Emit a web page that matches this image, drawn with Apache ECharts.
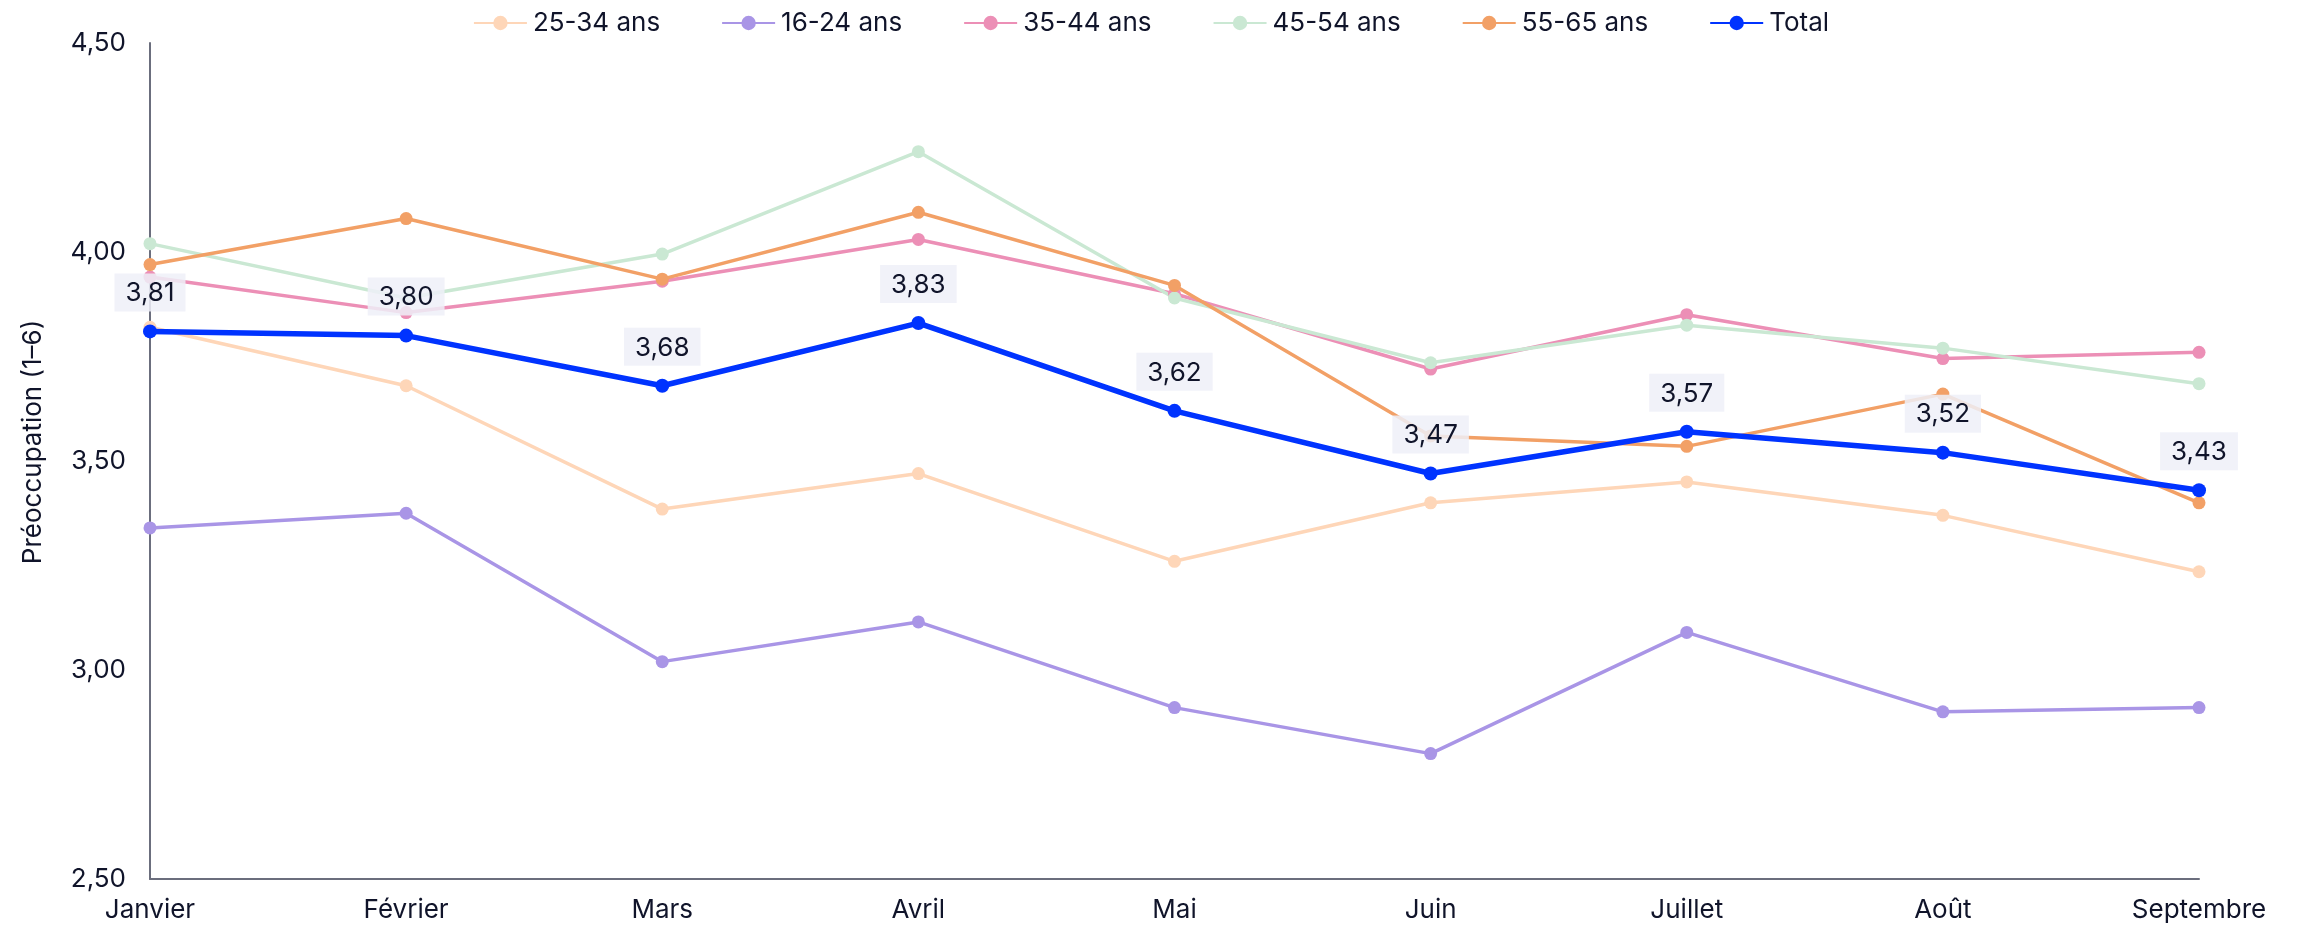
<!DOCTYPE html>
<html>
<head>
<meta charset="utf-8">
<script src="https://cdn.jsdelivr.net/npm/echarts@6/dist/echarts.min.js"></script>
<style>
  html, body { margin: 0; padding: 0; background: #fff; }
  #chart { width: 2302px; height: 930px; }
</style>
</head>
<body>
<div id="chart"></div>
<script>
  var months = ['Janvier', 'Février', 'Mars', 'Avril', 'Mai', 'Juin', 'Juillet', 'Août', 'Septembre'];

  var age2534 = [3.82, 3.68, 3.385, 3.47, 3.26, 3.40, 3.45, 3.37, 3.235];
  var age1624 = [3.34, 3.375, 3.02, 3.115, 2.91, 2.80, 3.09, 2.90, 2.91];
  var age3544 = [3.94, 3.855, 3.93, 4.03, 3.90, 3.72, 3.85, 3.745, 3.76];
  var age4554 = [4.02, 3.89, 3.995, 4.24, 3.89, 3.735, 3.825, 3.77, 3.685];
  var age5565 = [3.97, 4.08, 3.935, 4.095, 3.92, 3.56, 3.535, 3.66, 3.40];
  var total = [3.81, 3.80, 3.68, 3.83, 3.62, 3.47, 3.57, 3.52, 3.43];

  var textColor = '#10142a';
  var font = 'Inter, "Noto Sans", sans-serif';

  function comma(v, d) {
    return Number(v).toFixed(d).replace('.', ',');
  }

  function ageSeries(name, data, color) {
    return {
      name: name,
      type: 'line',
      data: data,
      symbol: 'circle',
      symbolSize: 13,
      color: color,
      lineStyle: { width: 3.5, color: color },
      itemStyle: { color: color },
      z: 2
    };
  }

  var chart = echarts.init(document.getElementById('chart'));

  chart.setOption({
    animation: false,
    textStyle: { fontFamily: font },
    legend: {
      top: 5,
      left: 'center',
      itemWidth: 53,
      itemHeight: 18,
      itemGap: 61,
      textStyle: { fontSize: 26, color: textColor, fontFamily: font, padding: [0, 0, 0, 1] },
      data: ['25-34 ans', '16-24 ans', '35-44 ans', '45-54 ans', '55-65 ans', 'Total']
    },
    grid: { left: 150, right: 103, top: 43, bottom: 51, containLabel: false },
    xAxis: {
      type: 'category',
      data: months,
      boundaryGap: false,
      axisLine: { lineStyle: { color: '#6b6e7d', width: 2 } },
      axisTick: { show: false },
      axisLabel: { fontSize: 26, color: textColor, margin: 18, fontFamily: font },
      splitLine: { show: false }
    },
    yAxis: {
      type: 'value',
      min: 2.5,
      max: 4.5,
      interval: 0.5,
      name: 'Préoccupation (1–6)',
      nameLocation: 'middle',
      nameGap: 104,
      nameTextStyle: { fontSize: 26, color: textColor, fontFamily: font, padding: [0, 0, 0, 38] },
      axisLine: { show: true, lineStyle: { color: '#6b6e7d', width: 2 } },
      axisTick: { show: false },
      axisLabel: {
        fontSize: 26, color: textColor, margin: 24, fontFamily: font,
        formatter: function (v) { return comma(v, 2); }
      },
      splitLine: { show: false }
    },
    series: [
      ageSeries('25-34 ans', age2534, '#fed6b8'),
      ageSeries('16-24 ans', age1624, '#a995e6'),
      ageSeries('35-44 ans', age3544, '#ec8fb6'),
      ageSeries('45-54 ans', age4554, '#cae8d3'),
      ageSeries('55-65 ans', age5565, '#f2a066'),
      {
        name: 'Total',
        type: 'line',
        data: total,
        symbol: 'circle',
        symbolSize: 14,
        color: '#0033ff',
        lineStyle: { width: 5.5, color: '#0033ff' },
        itemStyle: { color: '#0033ff' },
        z: 5,
        label: {
          show: true,
          position: 'top',
          distance: 13,
          fontSize: 26,
          color: textColor,
          fontFamily: font,
          backgroundColor: 'rgba(238,240,248,0.85)',
          padding: [7, 11, 5, 11],
          formatter: function (p) { return comma(p.value, 2); }
        }
      }
    ]
  });
</script>
</body>
</html>
